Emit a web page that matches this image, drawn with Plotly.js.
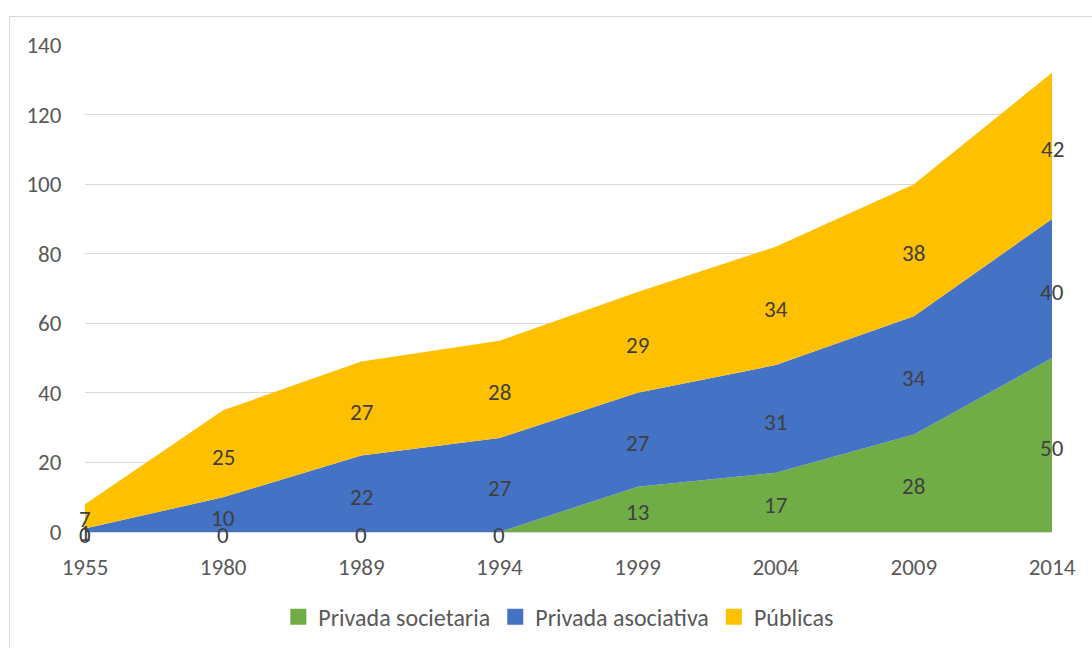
<!DOCTYPE html>
<html>
<head>
<meta charset="utf-8">
<script src="https://cdn.plot.ly/plotly-3.0.1.min.js"></script>
<style>
  html, body { margin: 0; padding: 0; background: #ffffff; overflow: hidden; }
  #frame { position: absolute; left: 9px; top: 16px; width: 1100px; height: 650px; border: 1px solid #d9d9d9; box-sizing: border-box; }
  #chart { position: absolute; left: 0; top: 0; width: 1092px; height: 648px; }
</style>
</head>
<body>
<div id="frame"></div>
<div id="chart"></div>
<script>
const years = ["1955", "1980", "1989", "1994", "1999", "2004", "2009", "2014"];
const privadaSocietaria = [0, 0, 0, 0, 13, 17, 28, 50];
const privadaAsociativa = [1, 10, 22, 27, 27, 31, 34, 40];
const publicas = [7, 25, 27, 28, 29, 34, 38, 42];

const seriesNames = ["Privada societaria", "Privada asociativa", "Públicas"];
const seriesColors = ["#70ad47", "#4472c4", "#ffc000"];
const seriesData = [privadaSocietaria, privadaAsociativa, publicas];

const FONT = "Carlito, 'Liberation Sans Narrow', 'Open Sans', sans-serif";
const idx = years.map((_, i) => i);

const traces = [];
seriesData.forEach((vals, s) => {
  traces.push({
    type: "scatter", mode: "none", x: idx, y: vals, name: seriesNames[s],
    stackgroup: "one", fill: "tonexty", fillcolor: seriesColors[s], showlegend: false,
    line: { width: 0, color: seriesColors[s] }, hoverinfo: "skip"
  });
});
// data labels at the middle of each band
const annotations = [];
const base = idx.map(() => 0);
seriesData.forEach((vals) => {
  vals.forEach((v, i) => {
    annotations.push({
      x: i, y: base[i] + v / 2, xref: "x", yref: "y", text: String(v), showarrow: false,
      xanchor: "center", yanchor: "middle", yshift: -3,
      font: { family: FONT, size: 23, color: "#404040" }
    });
    base[i] += v;
  });
});
// legend entries with square swatches
seriesNames.forEach((n, s) => {
  traces.push({
    type: "scatter", mode: "markers", x: [null], y: [null], name: n, showlegend: true,
    marker: { symbol: "square", size: 16, color: seriesColors[s] }, hoverinfo: "skip"
  });
});

const layout = {
  width: 1092, height: 648,
  margin: { l: 85, r: 40, t: 45, b: 116, autoexpand: false },
  paper_bgcolor: "rgba(0,0,0,0)", plot_bgcolor: "rgba(0,0,0,0)",
  font: { family: FONT, size: 20, color: "#595959" },
  showlegend: true,
  annotations: annotations,
  legend: { orientation: "h", x: 0.49, xanchor: "center", y: -0.175, yanchor: "middle",
            itemwidth: 30, font: { family: FONT, size: 24, color: "#595959" }, traceorder: "normal" },
  xaxis: { range: [0, 7], tickvals: idx, ticktext: years, showgrid: false, zeroline: false,
           showline: true, linecolor: "#d9d9d9", linewidth: 1, ticks: "outside", ticklen: 14,
           tickcolor: "rgba(0,0,0,0)", automargin: false,
           tickfont: { family: FONT, size: 23, color: "#595959" }, fixedrange: true },
  yaxis: { range: [0, 140], dtick: 20, showgrid: true, gridcolor: "#d9d9d9", gridwidth: 1,
           zeroline: false, showline: false, ticks: "outside", ticklen: 18, tickcolor: "rgba(0,0,0,0)",
           automargin: false,
           tickfont: { family: FONT, size: 23, color: "#595959" }, fixedrange: true }
};

Plotly.newPlot("chart", traces, layout, { displayModeBar: false, staticPlot: true });
</script>
</body>
</html>
